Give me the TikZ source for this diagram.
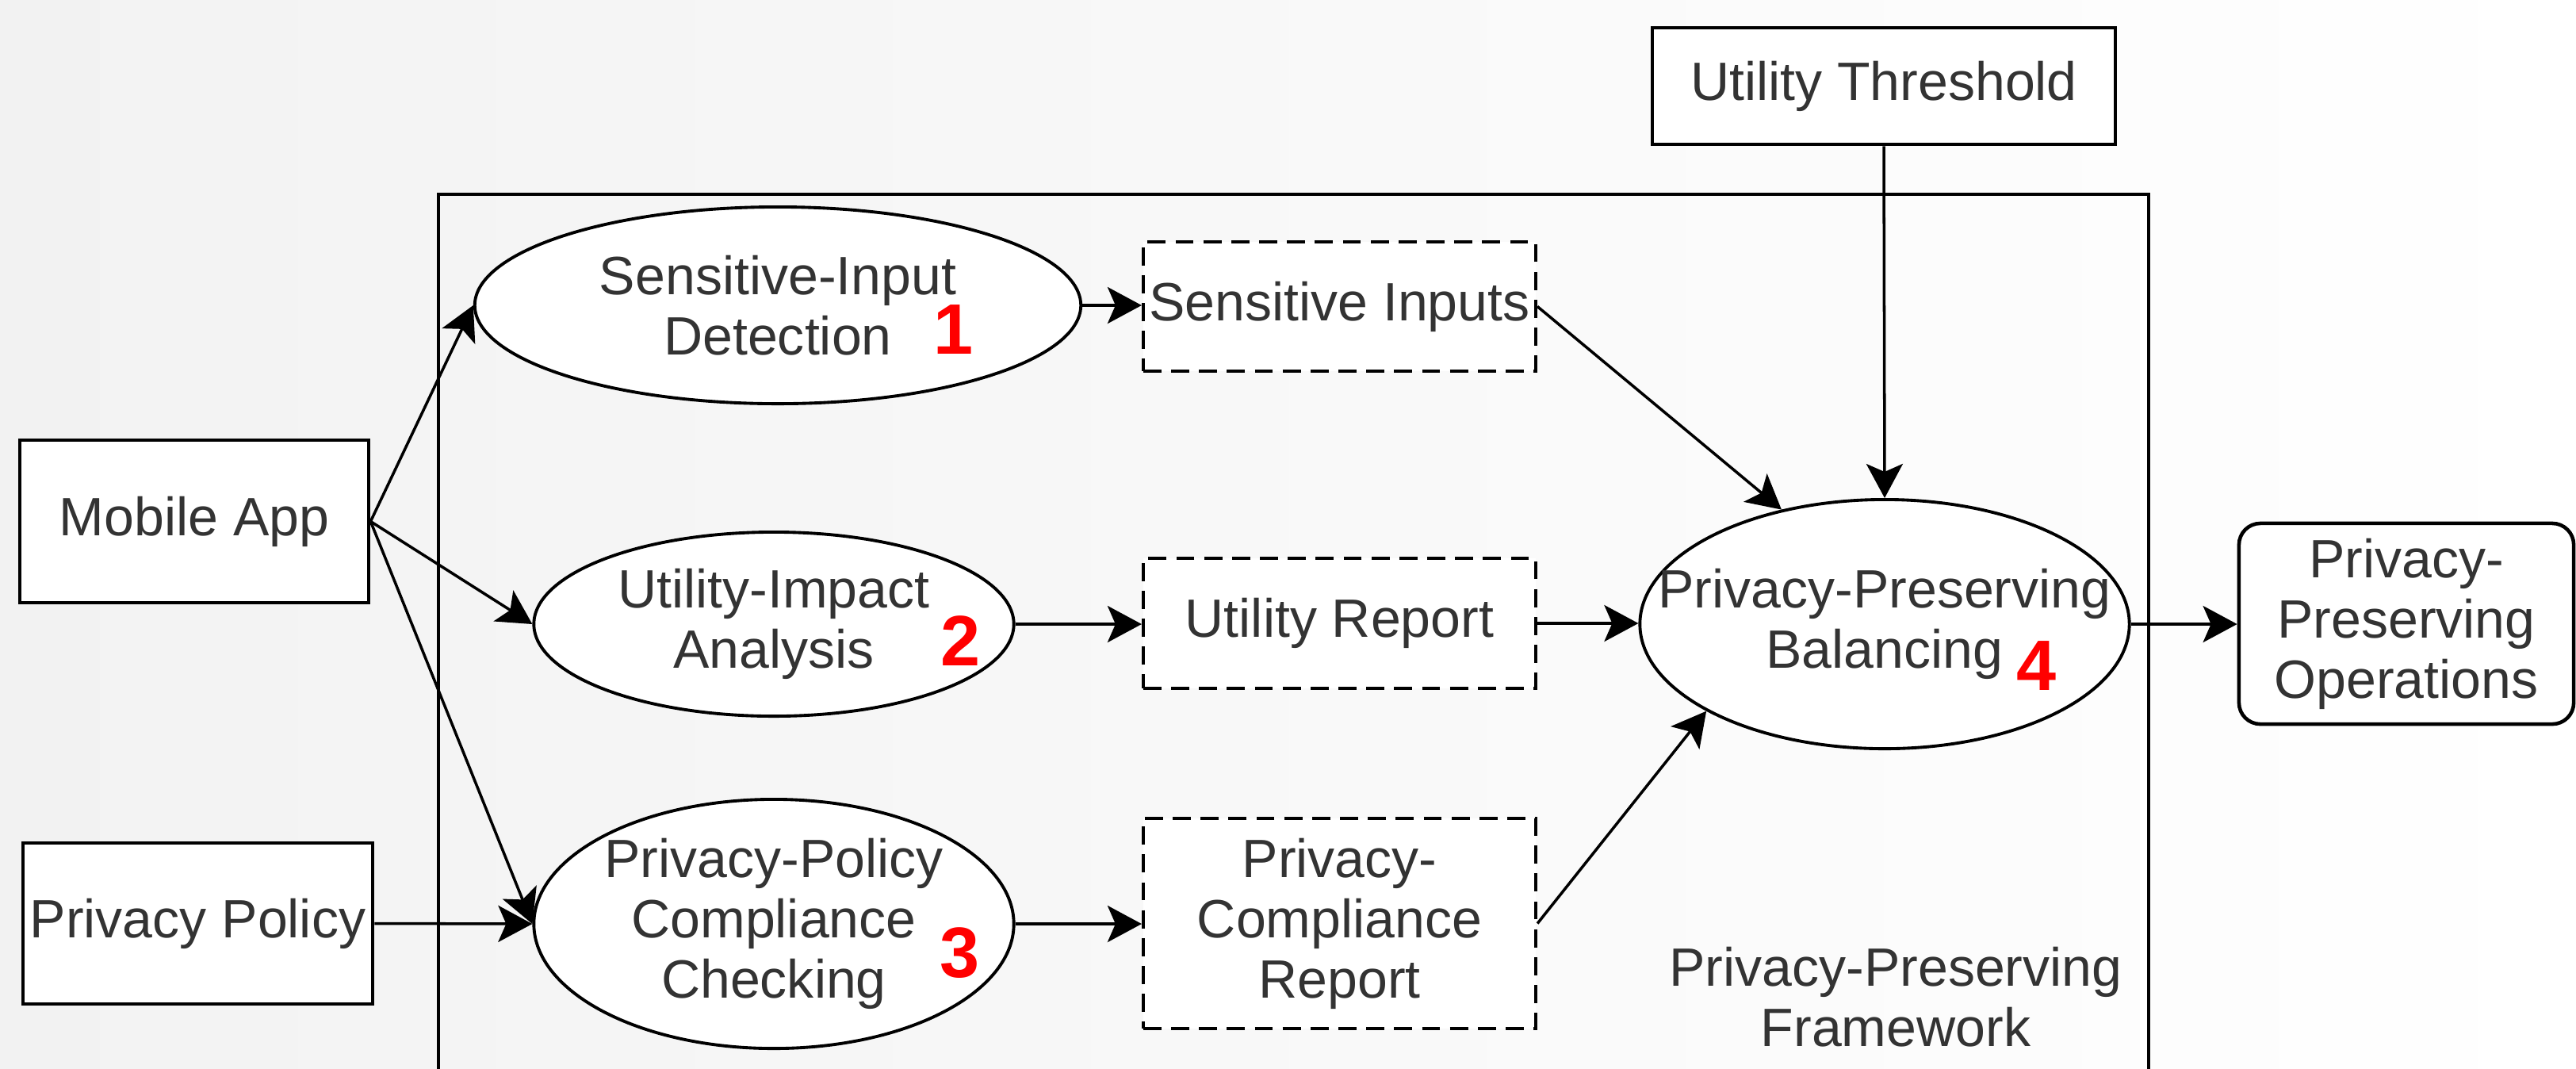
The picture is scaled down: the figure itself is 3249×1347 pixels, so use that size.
\documentclass[tikz,border=0pt]{standalone}
\usepackage{fontspec}
\setmainfont{Liberation Sans}
\usetikzlibrary{arrows.meta,shapes.geometric}
\definecolor{txtc}{HTML}{333333}
\definecolor{bgc}{HTML}{F2F2F2}
\begin{document}
\begin{tikzpicture}[x=0.01cm,y=-0.01cm,
  font=\fontsize{19.35pt}{21.6pt}\selectfont,
  box/.style={draw, line width=1.3pt, fill=white, inner sep=0pt, align=center, text=txtc},
  dbox/.style={draw, dashed, dash pattern=on 6.5pt off 3.5pt, line width=1.1pt, fill=white, inner sep=0pt, align=center, text=txtc},
  ell/.style={ellipse, draw, line width=1.1pt, fill=white, inner sep=0pt},
  lbl/.style={align=center, text=txtc, inner sep=0pt},
  num/.style={text=red, font=\fontsize{25.6pt}{28pt}\selectfont\bfseries, inner sep=0pt},
  conn/.style={-{Stealth[length=0.43cm,width=0.46cm,inset=0.1cm]}, line width=1pt}]
\shade[left color=bgc, right color=white] (0,0) rectangle (3249,1347);
\useasboundingbox (0,0) rectangle (3249,1347);
% framework frame (open at the bottom, runs off the picture)
\draw[line width=1.1pt] (553,1400) -- (553,245) -- (2710,245) -- (2710,1400);
\node[lbl] (fwl) at (2391,1257) {Privacy-Preserving\\Framework};
% inputs
\node[box, minimum width=4.40cm, minimum height=2.05cm] (app) at (245,657.5) {Mobile App};
\node[box, minimum width=4.41cm, minimum height=2.03cm] (pol) at (249.5,1164.5) {Privacy Policy};
\node[box, minimum width=5.84cm, minimum height=1.47cm] (ut) at (2376,108.5) {Utility Threshold};
\node[box, rounded corners=0.27cm, minimum width=4.22cm, minimum height=2.53cm] (ops) at (3035,786.5) {Privacy-\\Preserving\\Operations};
% process ellipses
\node[ell, minimum width=7.64cm, minimum height=2.48cm] (e1) at (981,385) {};
\node[lbl] (e1t) at (e1) {Sensitive-Input\\Detection};
\node[num] (n1) at (1203,416) {1};
\node[ell, minimum width=6.05cm, minimum height=2.32cm] (e2) at (976,787) {};
\node[lbl] (e2t) at (e2) {Utility-Impact\\Analysis};
\node[num] (n2) at (1212,808) {2};
\node[ell, minimum width=6.05cm, minimum height=3.14cm] (e3) at (976,1165) {};
\node[lbl] (e3t) at (e3) {Privacy-Policy\\Compliance\\Checking};
\node[num] (n3) at (1211,1202) {3};
\node[ell, minimum width=6.17cm, minimum height=3.14cm] (e4) at (2377,787) {};
\node[lbl] (e4t) at (e4) {Privacy-Preserving\\Balancing};
\node[num] (n4) at (2568,840) {4};
% intermediate results
\node[dbox, minimum width=4.95cm, minimum height=1.63cm] (d1) at (1689.5,386.5) {Sensitive Inputs};
\node[dbox, minimum width=4.95cm, minimum height=1.64cm] (d2) at (1689.5,786) {Utility Report};
\node[dbox, minimum width=4.95cm, minimum height=2.65cm] (d3) at (1689.5,1164.5) {Privacy-\\Compliance\\Report};
% connectors
\draw[conn] (app.east) -- (e1.west);
\draw[conn] (app.east) -- (e2.west);
\draw[conn] (app.east) -- (e3.west);
\draw[conn] (pol.east) -- (e3.west);
\draw[conn] (e1.east) -- (e1.east -| d1.west);
\draw[conn] (e2.east) -- (e2.east -| d2.west);
\draw[conn] (e3.east) -- (e3.east -| d3.west);
\draw[conn] (d1.east) -- (e4.132);
\draw[conn] (ut.south) -- (e4.north);
\draw[conn] (d2.east) -- (d2.east -| e4.west);
\draw[conn] (d3.east) -- (e4.206);
\draw[conn] (e4.east) -- (e4.east -| ops.west);
\end{tikzpicture}
\end{document}
